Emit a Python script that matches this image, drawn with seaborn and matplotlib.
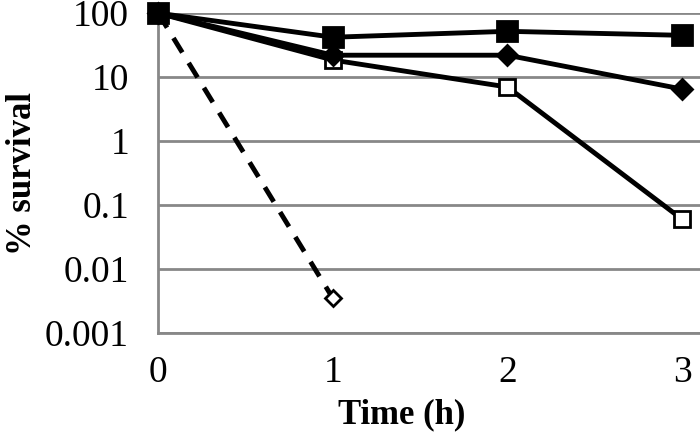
import matplotlib
matplotlib.use("Agg")
import matplotlib.pyplot as plt
import matplotlib.ticker as mticker
import seaborn as sns
import pandas as pd

# survival over time, four strains
time_h = [0, 1, 2, 3]
filled_square = [100, 42, 52, 45]
filled_diamond = [100, 22, 22, 6.5]
open_square = [100, 18.5, 7, 0.06]
open_diamond_time = [0, 1]
open_diamond = [100, 0.0035]

y_ticks = [0.001, 0.01, 0.1, 1, 10, 100]
y_tick_labels = ["0.001", "0.01", "0.1", "1", "10", "100"]

sns.set_style("white")
plt.rcParams["font.family"] = ["Liberation Serif", "DejaVu Serif"]

fig = plt.figure(figsize=(7, 4.38), dpi=100)
ax = fig.add_axes([0.226, 0.2397, 0.7734, 0.7303])

grid_col = "#888888"

# drawn back to front so the filled square sits on top at t=0
series = [
    (open_diamond_time, open_diamond, dict(marker="D", markersize=8, markerfacecolor="white", linestyle="--")),
    (time_h, open_square, dict(marker="s", markersize=12, markerfacecolor="white", linestyle="-")),
    (time_h, filled_diamond, dict(marker="D", markersize=10.5, markerfacecolor="black", linestyle="-")),
    (time_h, filled_square, dict(marker="s", markersize=14, markerfacecolor="black", linestyle="-")),
]

for xs, ys, kw in series:
    df = pd.DataFrame({"t": xs, "s": ys})
    sns.lineplot(data=df, x="t", y="s", ax=ax, color="black", linewidth=3.5,
                 markeredgecolor="black", markeredgewidth=2, clip_on=False,
                 zorder=5, dashes=False, **kw)

for line in ax.get_lines():
    if line.get_linestyle() == "--":
        line.set_dashes([3.5, 2.5])

ax.set_yscale("log")
ax.set_ylim(0.001, 100)
ax.set_xlim(0, 3.1)
ax.set_yticks(y_ticks)
ax.set_yticklabels(y_tick_labels)
ax.yaxis.set_minor_locator(mticker.NullLocator())
ax.set_xticks(time_h)

ax.grid(axis="y", color=grid_col, linewidth=2)
ax.grid(axis="x", visible=False)
ax.set_axisbelow(True)

for side in ["top", "right"]:
    ax.spines[side].set_visible(False)
for side in ["left", "bottom"]:
    ax.spines[side].set_color(grid_col)
    ax.spines[side].set_linewidth(2)

ax.tick_params(axis="both", which="major", direction="out", length=7, width=2,
               color=grid_col, labelsize=27, labelcolor="black")
ax.tick_params(axis="y", pad=14)
ax.tick_params(axis="x", pad=9)

ax.set_xlabel("Time (h)", fontsize=25, fontweight="bold", color="black")
ax.set_ylabel("% survival", fontsize=25, fontweight="bold", color="black")
ax.xaxis.set_label_coords(0.45, -0.203)
ax.yaxis.set_label_coords(-0.22, 0.5)

fig.savefig("out.png", dpi=100)
